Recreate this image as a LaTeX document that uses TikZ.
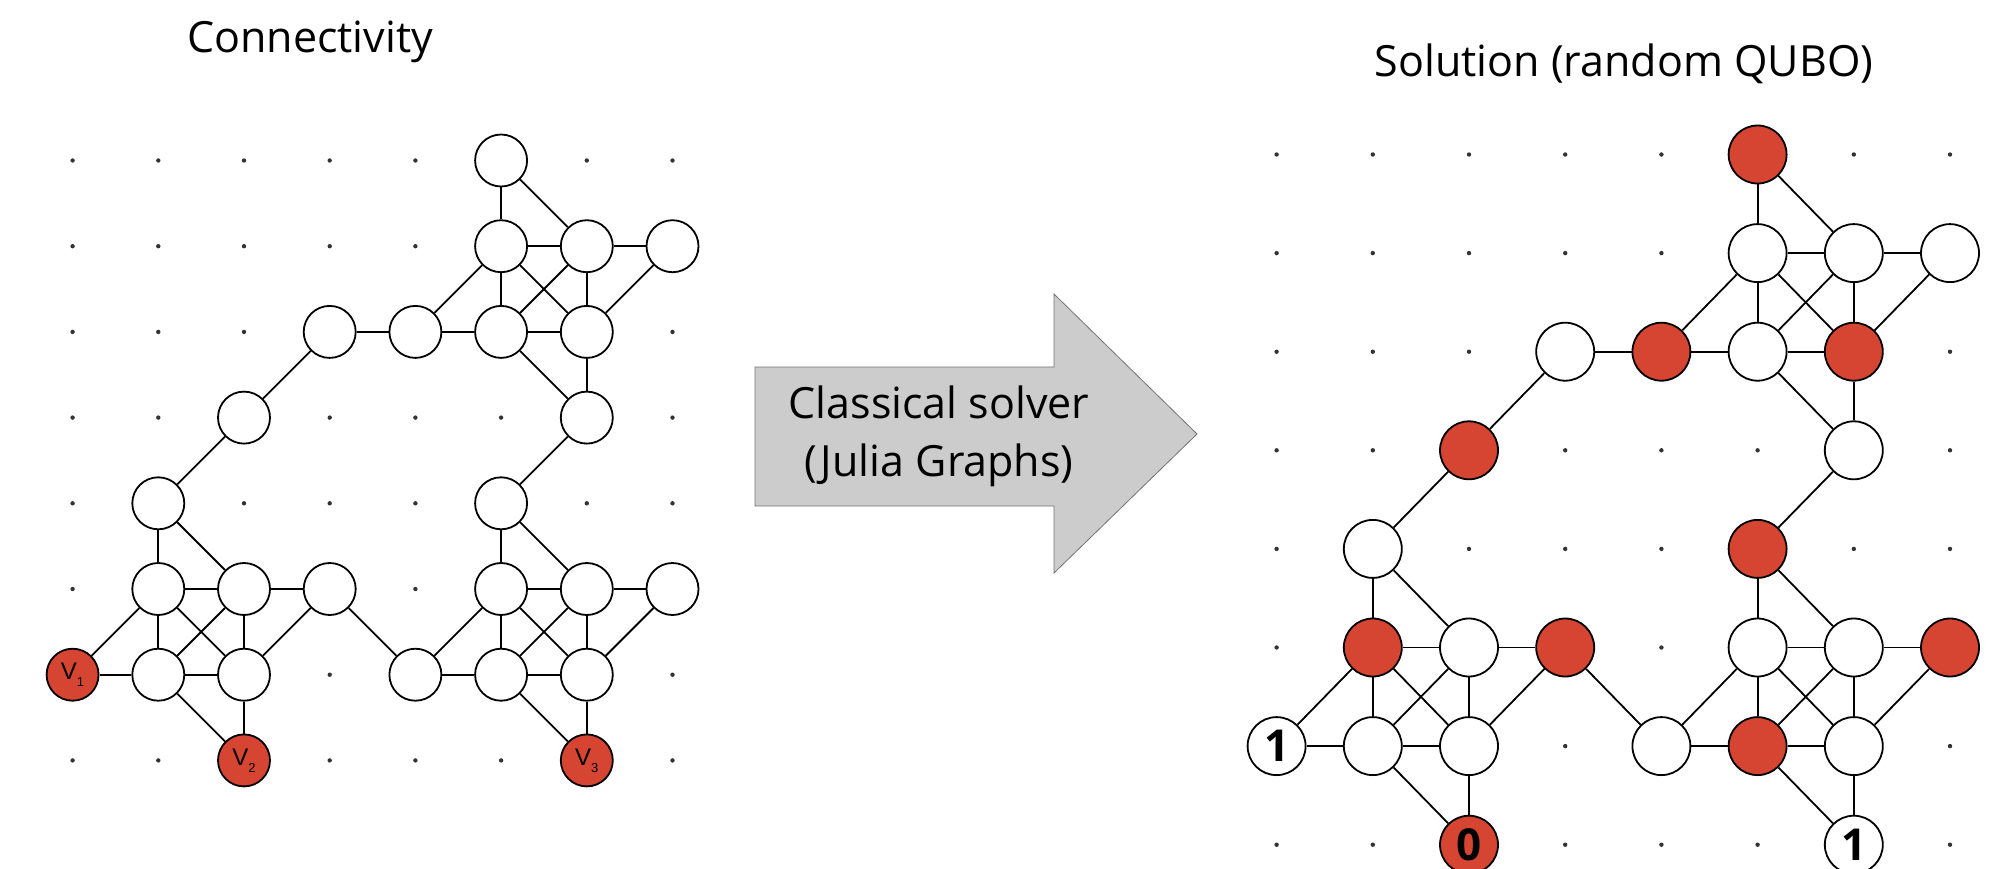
\documentclass[tikz,border=0pt]{standalone}
\usepackage{fontspec}
\setmainfont{Open Sans}
\newfontfamily\vfont{Liberation Sans}
\definecolor{qred}{HTML}{D64532}
\definecolor{arrowgray}{HTML}{CCCCCC}
\tikzset{
  site/.style={circle,draw=black,line width=1.8pt,fill=white,inner sep=0pt},
  on/.style={fill=qred},
  bond/.style={line width=1.8pt},
  spot/.style={fill=black!80},
  title/.style={font=\fontsize{43}{50}\selectfont},
  bit/.style={font=\bfseries\fontsize{44}{44}\selectfont},
  vee/.style={font=\vfont\fontsize{24}{24}\selectfont}
}
% edges of the graph, names are colrow
\newcommand{\bonds}[1]{%
\foreach \a/\b in {50/51,50/61,51/61,61/71,51/52,51/62,61/52,61/62,71/62,42/51,42/52,52/62,52/63,62/63,
  14/15,14/25,15/25,25/35,15/16,15/26,25/16,25/26,35/26,06/15,06/16,16/26,16/27,26/27,
  54/55,54/65,55/65,65/75,55/56,55/66,65/56,65/66,75/66,46/55,46/56,56/66,56/67,66/67,
  32/42,32/23,23/14,63/54,35/46}
  \draw[bond] (#1\a) -- (#1\b);}
\begin{document}
\begin{tikzpicture}[x=1pt,y=-1pt]
\useasboundingbox (0,0) rectangle (2008,868);
\node[title] (t1) at (310,42) {Connectivity};
\node[title] (t2) at (1624,64) {Solution (random QUBO)};
% left graph
\begin{scope}[shift={(72.6,160.5)},x=85.7pt,y=-85.7pt]
\foreach \c in {0,...,7}
    \foreach \r in {0,...,7}
        \fill[spot] (\c,\r) circle (2.2pt);
\foreach \c/\r in {5/0,5/1,6/1,7/1,3/2,4/2,5/2,6/2,2/3,6/3,1/4,5/4,1/5,2/5,3/5,5/5,6/5,7/5,1/6,2/6,4/6,5/6,6/6}
    \node[site,minimum size=52pt] (L\c\r) at (\c,\r) {};
\node[site,on,minimum size=52pt,vee] (L06) at (0,6) {V\raisebox{-7pt}{\fontsize{13}{13}\selectfont 1}};
\node[site,on,minimum size=52pt,vee] (L27) at (2,7) {V\raisebox{-7pt}{\fontsize{13}{13}\selectfont 2}};
\node[site,on,minimum size=52pt,vee] (L67) at (6,7) {V\raisebox{-7pt}{\fontsize{13}{13}\selectfont 3}};
\bonds{L}
\end{scope}
% right graph
\begin{scope}[shift={(1276.6,154.5)},x=96.2pt,y=-98.6pt]
\foreach \c in {0,...,7}
    \foreach \r in {0,...,7}
        \fill[spot] (\c,\r) circle (2.2pt);
\foreach \c/\r/\s in {5/0/on,5/1/,6/1/,7/1/,3/2/,4/2/on,5/2/,6/2/on,2/3/on,6/3/,1/4/,5/4/on,
    1/5/on,2/5/,3/5/on,5/5/,6/5/,7/5/on,1/6/,2/6/,4/6/,5/6/on,6/6/}
    \node[site,\s,minimum size=58pt] (R\c\r) at (\c,\r) {};
\node[site,minimum size=58pt,bit] (R06) at (0,6) {1};
\node[site,on,minimum size=58pt,bit] (R27) at (2,7) {0};
\node[site,minimum size=58pt,bit] (R67) at (6,7) {1};
\bonds{R}
\end{scope}
% arrow
\draw[draw=black!55,fill=arrowgray,line width=0.8pt]
  (755,367) -- (1054,367) -- (1054,294) -- (1197,434) -- (1054,573) -- (1054,506) -- (755,506) -- cycle;
\node[align=center,font=\fontsize{43}{58}\selectfont] (lbl) at (939,436) {Classical solver\\(Julia Graphs)};
\end{tikzpicture}
\end{document}
